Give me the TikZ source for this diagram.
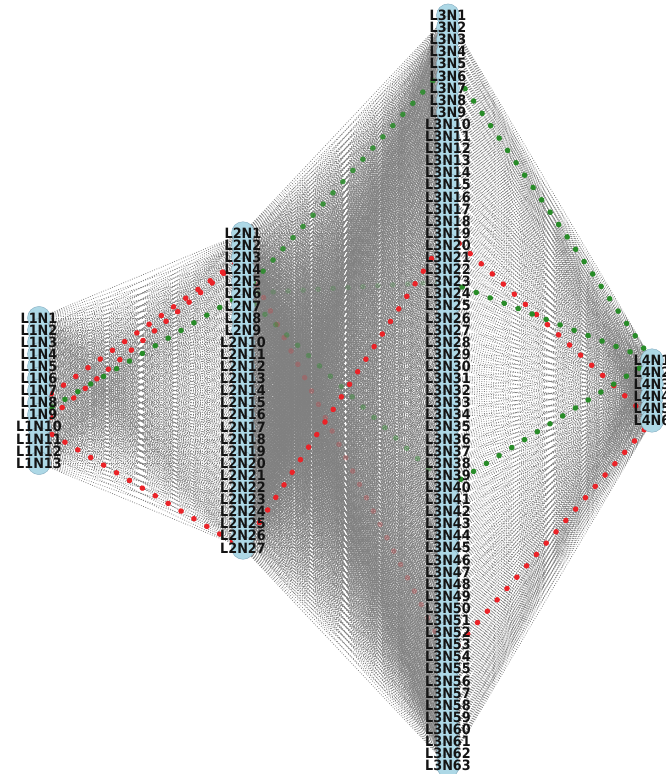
\documentclass[tikz,border=0pt]{standalone}
\usepackage{fontspec}
\setmainfont{DejaVu Sans}
\newfontfamily\tagfont[FakeStretch=0.9]{DejaVu Sans Bold}
\definecolor{nodeblue}{RGB}{173,216,230}
\definecolor{nodeedge}{RGB}{130,170,190}
\definecolor{linkgray}{RGB}{128,128,128}
\definecolor{hotred}{RGB}{235,35,40}
\definecolor{hotgreen}{RGB}{40,140,40}
\pgfdeclarelayer{edges}
\pgfsetlayers{edges,main}
\begin{document}
\begin{tikzpicture}[x=1pt,y=-1pt,
  unit/.style={circle, minimum size=23pt, inner sep=0pt, fill=nodeblue, draw=nodeedge, line width=0.4pt},
  tag/.style={font=\tagfont\fontsize{14.2}{14.2}\selectfont, text=black!92, inner sep=0pt},
  link/.style={draw=linkgray, line width=0.8pt, dash pattern=on 0.8pt off 1.6pt},
  hot/.style={line width=5.4pt, line cap=round, dash pattern=on 0.3pt off 14.7pt},
  hotr/.style={hot, draw=hotred},
  hotg/.style={hot, draw=hotgreen}]
\useasboundingbox (0,0) rectangle (665,774);

% neurons of the four layers
\foreach \i in {1,...,13} \node[unit] (L1N\i) at (39,{390.5+(\i-7)*12.1}) {};
\foreach \i in {1,...,27} \node[unit] (L2N\i) at (243,{390.5+(\i-14)*12.1}) {};
\foreach \i in {1,...,63} \node[unit] (L3N\i) at (448,{390.5+(\i-32)*12.1}) {};
\foreach \i in {1,...,6} \node[unit] (L4N\i) at (652,{390.5+(\i-3.5)*12.1}) {};

% neuron names
\foreach \i in {1,...,13} \node[tag] (T1N\i) at (L1N\i) {L1N\i};
\foreach \i in {1,...,27} \node[tag] (T2N\i) at (L2N\i) {L2N\i};
\foreach \i in {1,...,63} \node[tag] (T3N\i) at (L3N\i) {L3N\i};
\foreach \i in {1,...,6} \node[tag] (T4N\i) at (L4N\i) {L4N\i};

\begin{pgfonlayer}{edges}
% full connections between adjacent layers
\foreach \a in {1,...,13} \foreach \b in {1,...,27}
  \draw[link] (L1N\a.center) -- (L2N\b.center);
\foreach \a in {1,...,27} \foreach \b in {1,...,63}
  \draw[link] (L2N\a.center) -- (L3N\b.center);
\foreach \a in {1,...,63} \foreach \b in {1,...,6}
  \draw[link] (L3N\a.center) -- (L4N\b.center);

% highlighted connections
\draw[hotr] (L1N8.center) -- (L2N3.center);
\draw[hotr] (L1N10.center) -- (L2N3.center);
\draw[hotr] (L1N10.center) -- (L2N27.center);
\draw[hotr] (L2N27.center) -- (L3N19.center);
\draw[hotr, draw opacity=0.22] (L2N3.center) -- (L3N54.center);
\draw[hotr] (L3N19.center) -- (L4N6.center);
\draw[hotr] (L3N54.center) -- (L4N6.center);

\draw[hotg] (L1N9.center) -- (L2N6.center);
\draw[hotg, draw opacity=0.85] (L2N6.center) -- (L3N5.center);
\draw[hotg, draw opacity=0.22] (L2N6.center) -- (L3N23.center);
\draw[hotg, draw opacity=0.4] (L2N6.center) -- (L3N40.center);
\draw[hotg] (L3N5.center) -- (L4N1.center);
\draw[hotg] (L3N23.center) -- (L4N1.center);
\draw[hotg] (L3N40.center) -- (L4N1.center);
\end{pgfonlayer}
\end{tikzpicture}
\end{document}
